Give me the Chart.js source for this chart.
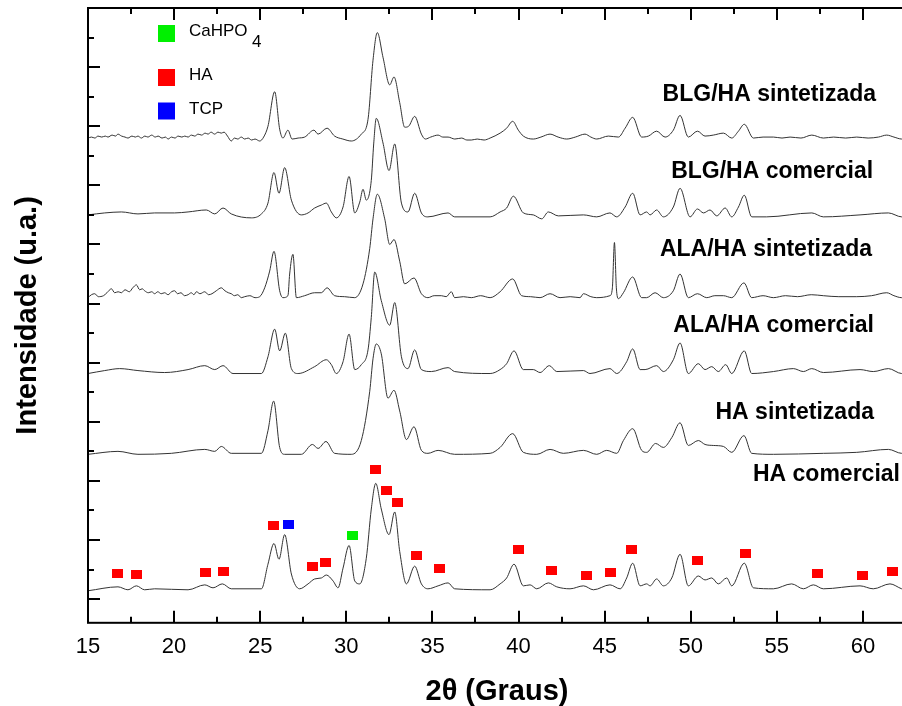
<!DOCTYPE html>
<html>
<head>
<meta charset="utf-8">
<script src="https://cdn.jsdelivr.net/npm/chart.js@4"></script>
<style>
  html, body { margin: 0; padding: 0; background: #fff; overflow: hidden; }
  canvas { display: block; }
</style>
</head>
<body>
<canvas id="xrd" width="917" height="706"></canvas>
<script>
// [2θ, intensidade acima da linha de base da amostra]
const blgHaSint = [[15.0,0],[15.2,1],[15.4,0],[15.58,2],[15.8,1],[16.0,2],[16.16,1],[16.4,3],[16.6,2],[16.74,4],[16.95,2],[17.15,1],[17.32,0],[17.55,2],[17.75,1],[17.9,2],[18.1,0],[18.3,2],[18.48,1],[18.7,3],[18.9,1],[19.07,2],[19.3,0],[19.5,1],[19.65,-1],[19.85,1],[20.05,0],[20.23,2],[20.45,1],[20.62,2],[20.81,1],[21.0,3],[21.2,2],[21.39,4],[21.6,3],[21.8,5],[21.97,4],[22.15,6],[22.35,4],[22.55,6],[22.74,5],[22.9,6],[23.1,2],[23.32,-3],[23.5,0],[23.7,-1],[23.9,1],[24.1,-1],[24.3,0],[24.5,-2],[24.7,-1],[24.97,-3],[25.2,1],[25.45,12],[25.84,47],[26.13,9],[26.32,0],[26.61,8],[26.85,-1],[27.2,0],[27.58,1],[28.12,8],[28.36,4],[28.88,10],[29.32,2],[29.8,-1],[30.29,-3],[30.87,4],[31.26,19],[31.55,79],[31.8,107],[32.13,82],[32.52,54],[32.77,62],[33.1,36],[33.39,11],[33.62,12],[33.97,22],[34.36,4],[34.59,-1],[34.9,1],[35.33,3],[35.6,1],[35.91,1],[36.3,-1],[36.7,0],[37.0,-2],[37.26,-2],[37.6,-1],[38.0,-2],[38.35,0],[38.93,5],[39.31,10],[39.66,17],[39.99,8],[40.28,2],[40.86,-1],[41.3,1],[41.83,4],[42.3,1],[42.8,-1],[43.3,1],[43.86,4],[44.2,1],[44.54,-1],[45.22,2],[45.8,1],[46.19,10],[46.63,21],[47.15,1],[47.54,2],[48.02,7],[48.51,1],[48.99,8],[49.38,23],[49.86,1],[50.39,7],[50.83,2],[51.31,3],[51.9,5],[52.38,0],[52.77,7],[53.11,14],[53.64,0],[54.2,1],[54.8,1],[55.3,0],[55.77,1],[56.4,0],[57.03,3],[57.7,0],[58.3,1],[59.0,0],[59.64,1],[60.3,0],[60.9,1],[61.38,3],[61.8,1],[62.25,-1],[62.5,0]];
const blgHaCom = [[15.0,0],[15.97,2],[16.94,3],[17.9,1],[18.87,2],[20.03,2],[20.81,3],[21.87,5],[22.36,1],[22.84,7],[23.32,1],[24.49,-3],[25.07,1],[25.45,12],[25.8,43],[26.09,22],[26.42,48],[26.81,15],[27.39,0],[27.78,2],[28.16,7],[28.55,10],[28.84,12],[29.13,3],[29.42,-3],[29.81,8],[30.16,39],[30.49,2],[30.78,13],[30.97,26],[31.16,15],[31.45,35],[31.59,72],[31.74,98],[32.13,73],[32.48,45],[32.81,72],[33.2,12],[33.58,3],[33.97,22],[34.36,2],[34.74,-2],[35.91,2],[36.29,-2],[38.35,-2],[38.93,3],[39.31,7],[39.7,19],[40.28,2],[40.86,0],[41.35,-4],[41.73,3],[42.31,-1],[43.77,0],[44.54,-2],[45.31,2],[45.7,-2],[46.19,8],[46.63,22],[47.06,0],[47.44,3],[47.64,0],[48.02,5],[48.41,-2],[48.99,8],[49.38,27],[49.96,-2],[50.39,6],[50.74,2],[51.12,5],[51.51,-1],[52.0,7],[52.38,-2],[52.77,8],[53.11,20],[53.54,-2],[54.41,-2],[57.03,2],[57.7,-2],[59.83,0],[61.48,2],[62.25,-2],[62.5,-1]];
const alaHaSint = [[15.0,-2],[15.2,1],[15.39,2],[15.6,-1],[15.9,0],[16.1,3],[16.36,7],[16.55,3],[16.75,4],[16.94,3],[17.15,6],[17.4,4],[17.6,8],[17.81,11],[18.0,6],[18.15,7],[18.29,5],[18.5,3],[18.7,4],[18.87,2],[19.05,4],[19.25,2],[19.45,3],[19.65,1],[19.85,4],[20.03,5],[20.2,2],[20.4,3],[20.6,0],[20.81,1],[21.0,3],[21.15,1],[21.3,4],[21.5,2],[21.78,4],[22.0,1],[22.2,2],[22.45,5],[22.74,8],[22.95,5],[23.15,3],[23.32,2],[23.5,0],[23.7,1],[23.9,-2],[24.1,-1],[24.4,0],[24.7,-2],[24.97,-1],[25.26,8],[25.55,25],[25.8,45],[26.13,5],[26.32,-2],[26.61,0],[26.71,22],[26.9,42],[27.1,-2],[27.58,0],[28.16,3],[28.55,3],[28.88,8],[29.32,0],[29.9,-1],[30.49,-2],[30.97,12],[31.36,48],[31.55,78],[31.8,103],[32.23,78],[32.52,52],[32.77,57],[33.1,35],[33.39,12],[33.93,18],[34.36,2],[34.74,-2],[35.1,0],[35.52,0],[35.8,-1],[36.1,4],[36.29,-2],[36.8,-1],[37.26,-2],[37.8,0],[38.35,-2],[38.93,4],[39.66,17],[40.18,0],[40.7,-1],[41.25,-2],[41.83,2],[42.41,-2],[43.0,-1],[43.57,-2],[43.77,2],[44.2,-1],[44.54,-2],[45.31,0],[45.45,8],[45.57,54],[45.68,8],[45.8,-3],[46.09,3],[46.63,19],[47.15,-2],[47.44,-2],[47.93,3],[48.41,-2],[48.99,5],[49.38,22],[49.86,-2],[50.39,2],[50.93,-2],[51.4,0],[51.9,0],[52.38,-2],[53.09,13],[53.54,-2],[54.2,0],[54.8,-2],[55.5,0],[56.2,-1],[57.0,1],[57.7,0],[58.6,-1],[59.64,-1],[60.5,0],[61.38,3],[61.8,0],[62.25,-2],[62.5,-1]];
const alaHaCom = [[15.0,-1],[15.97,2],[16.84,4],[17.9,2],[19.45,0],[20.81,3],[21.78,7],[22.36,3],[22.84,7],[23.42,-1],[25.07,-1],[25.45,16],[25.84,44],[26.13,22],[26.46,40],[26.81,4],[27.2,-1],[28.16,6],[28.84,13],[29.13,8],[29.42,-1],[29.81,11],[30.16,39],[30.49,3],[30.87,8],[31.26,23],[31.45,56],[31.65,102],[32.03,73],[32.52,48],[32.81,71],[33.2,16],[33.58,4],[33.97,23],[34.36,3],[34.94,1],[35.91,5],[36.29,1],[38.35,-1],[38.93,3],[39.31,9],[39.74,22],[40.28,3],[40.86,3],[41.25,0],[41.79,7],[42.22,1],[43.77,2],[44.15,-1],[45.31,4],[45.7,-1],[46.28,11],[46.63,24],[47.06,3],[47.35,3],[48.02,7],[48.41,1],[48.99,13],[49.38,30],[49.86,-1],[50.44,9],[50.83,3],[51.22,6],[51.6,1],[52.03,8],[52.38,-1],[53.11,22],[53.54,-1],[54.8,1],[55.96,4],[56.54,1],[57.03,4],[57.7,0],[59.83,3],[60.6,1],[61.48,4],[62.25,-1],[62.5,0]];
const haSint = [[15.0,-1],[16.74,2],[17.9,-1],[19.84,0],[21.78,4],[22.36,2],[22.74,7],[23.32,0],[25.07,0],[25.45,23],[25.78,53],[26.13,6],[26.42,-1],[27.39,-1],[28.03,9],[28.36,5],[28.82,12],[29.32,0],[30.29,-1],[30.87,13],[31.36,63],[31.55,96],[31.74,111],[32.03,101],[32.42,56],[32.77,64],[33.1,43],[33.49,14],[33.93,27],[34.36,3],[34.74,0],[35.33,3],[36.29,-1],[38.35,0],[38.93,6],[39.66,20],[40.28,1],[41.06,-1],[41.83,4],[42.6,0],[43.77,3],[44.54,-1],[45.12,3],[45.7,0],[46.09,13],[46.63,25],[47.15,3],[47.44,1],[47.96,10],[48.41,6],[48.9,16],[49.38,31],[49.86,8],[50.44,13],[50.83,9],[51.31,8],[51.9,7],[52.38,1],[53.09,18],[53.54,0],[54.8,-1],[57.7,0],[59.64,1],[61.48,4],[62.25,0],[62.5,0]];
const haCom = [[15.0,-1],[16.74,3],[17.32,0],[17.81,4],[18.29,0],[18.87,1],[20.81,0],[21.78,5],[22.26,2],[22.8,6],[23.32,1],[25.07,1],[25.45,26],[25.8,47],[26.09,31],[26.42,56],[26.81,16],[27.29,1],[27.78,6],[28.16,11],[28.55,12],[28.84,15],[29.23,9],[29.52,2],[29.81,22],[30.16,45],[30.49,9],[30.78,6],[31.16,32],[31.45,82],[31.71,108],[32.03,82],[32.48,56],[32.81,79],[33.1,39],[33.49,6],[33.97,24],[34.36,6],[34.74,1],[35.33,4],[35.91,7],[36.29,1],[38.35,0],[38.93,6],[39.31,12],[39.74,26],[40.28,4],[40.67,5],[41.06,1],[41.73,7],[42.22,3],[42.99,1],[43.77,4],[44.35,0],[45.31,5],[45.9,1],[46.28,12],[46.63,27],[47.06,4],[47.44,6],[47.64,4],[48.02,11],[48.41,4],[48.9,12],[49.38,36],[49.86,4],[50.44,14],[50.83,10],[51.22,12],[51.6,6],[52.09,12],[52.38,4],[53.11,27],[53.64,2],[54.8,1],[55.86,6],[56.54,1],[57.12,5],[57.7,1],[59.83,4],[60.6,1],[61.57,6],[62.25,1],[62.5,0]];

const samples = [blgHaSint, blgHaCom, alaHaSint, alaHaCom, haSint, haCom];
const sampleNames = ['BLG/HA sintetizada', 'BLG/HA comercial', 'ALA/HA sintetizada', 'ALA/HA comercial', 'HA sintetizada', 'HA comercial'];
const sampleOffsets = [468, 390, 308, 230, 148, 9.5];
const labelX = [60.76, 60.59, 60.53, 60.64, 60.64, 62.15];
const labelY = [511.6, 434.3, 355.1, 277.8, 189.4, 126.4];

// fases identificadas no padrão da HA comercial
const haPeaks = [[16.74,25.8],[17.79,24.8],[21.8,26.8],[22.84,27.8],[25.76,74.9],[28.03,32.9],[28.78,36.7],[31.71,131.4],[32.36,109.8],[32.98,98.2],[34.07,44.8],[35.44,31.6],[39.97,50.5],[41.93,29.5],[43.94,24.1],[45.33,27.5],[46.57,50.5],[50.42,39.3],[53.19,46.8],[57.35,25.8],[59.95,24.1],[61.69,27.8]];
const tcpPeaks = [[26.65,75.9]];
const cahpo4Peaks = [[30.35,64.7]];

const FONT = "'Liberation Sans', Arial, sans-serif";
Chart.defaults.font.family = FONT;
Chart.defaults.color = '#000';

function markImg(color) {
    const c = document.createElement('canvas');
    c.width = 11; c.height = 9;
    const g = c.getContext('2d');
    g.fillStyle = color;
    g.fillRect(0, 0, 11, 9);
    return c;
}

const traceSets = samples.map((s, i) => ({
    label: sampleNames[i],
    data: s.map(p => ({ x: p[0], y: p[1] + sampleOffsets[i] })),
    borderColor: '#333',
    borderWidth: 1,
    pointRadius: 0,
    cubicInterpolationMode: 'monotone',
    fill: false
}));

function markerSet(name, pts, color) {
    return {
        label: name,
        data: pts.map(p => ({ x: p[0], y: p[1] })),
        showLine: false,
        pointStyle: markImg(color),
        pointRadius: 6
    };
}

const framePlugin = {
    id: 'frame',
    afterDatasetsDraw(chart) {
        const { ctx, scales: { x, y } } = chart;
        ctx.save();
        ctx.fillStyle = '#000';
        ctx.font = 'bold 23px ' + FONT;
        ctx.textAlign = 'right';
        ctx.textBaseline = 'middle';
        sampleNames.forEach((n, i) => {
            ctx.fillText(n, x.getPixelForValue(labelX[i]), y.getPixelForValue(labelY[i]));
        });
        ctx.restore();
    },
    afterDraw(chart) {
        const { ctx, chartArea: a, scales: { x, y } } = chart;
        ctx.save();
        ctx.strokeStyle = '#000';
        ctx.lineWidth = 2;
        ctx.strokeRect(a.left, a.top, a.right - a.left, a.bottom - a.top);
        ctx.beginPath();
        x.ticks.forEach(t => {
            const px = Math.round(x.getPixelForValue(t.value));
            const len = t.value % 5 === 0 ? 12 : 6;
            ctx.moveTo(px, a.bottom); ctx.lineTo(px, a.bottom - len);
            ctx.moveTo(px, a.top); ctx.lineTo(px, a.top + len);
        });
        y.ticks.forEach(t => {
            const py = Math.round(y.getPixelForValue(t.value));
            const len = t.value % 60 === 0 ? 12 : 6;
            ctx.moveTo(a.left, py); ctx.lineTo(a.left + len, py);
        });
        ctx.stroke();

        // legenda das fases
        const lx = a.left + 70;
        const items = [['#00f000', 'CaHPO', 33.5], ['#ff0000', 'HA', 77.5], ['#0000ff', 'TCP', 111]];
        ctx.font = '17px ' + FONT;
        ctx.textBaseline = 'middle';
        ctx.textAlign = 'left';
        items.forEach(([c, t, cy]) => {
            ctx.fillStyle = c;
            ctx.fillRect(lx, cy - 8.5, 17, 17);
            ctx.fillStyle = '#000';
            ctx.fillText(t, lx + 31, cy - 2);
        });
        ctx.fillText('4', lx + 94, 42);
        ctx.restore();
    }
};

new Chart(document.getElementById('xrd'), {
    type: 'line',
    data: {
        datasets: [
            ...traceSets,
            markerSet('HA', haPeaks, '#ff0000'),
            markerSet('TCP', tcpPeaks, '#0000ff'),
            markerSet('CaHPO4', cahpo4Peaks, '#00f000')
        ]
    },
    options: {
        responsive: false,
        animation: false,
        layout: { padding: { left: 0, right: 4, top: 8, bottom: 0 } },
        plugins: { legend: { display: false }, tooltip: { enabled: false } },
        scales: {
            x: {
                type: 'linear',
                min: 15,
                max: 62.5,
                grid: { display: false, drawTicks: false },
                border: { display: false },
                ticks: {
                    stepSize: 2.5,
                    autoSkip: false,
                    maxRotation: 0,
                    padding: 11,
                    font: { size: 22 },
                    callback: v => (v % 5 === 0 ? v : '')
                },
                title: {
                    display: true,
                    text: '2θ (Graus)',
                    font: { size: 29, weight: 'bold' },
                    padding: { top: 3, bottom: -3 }
                }
            },
            y: {
                min: -24,
                max: 600,
                grid: { display: false, drawTicks: false },
                border: { display: false },
                ticks: { display: false },
                afterBuildTicks: s => {
                    const t = [];
                    for (let v = 0; v <= 570; v += 30) t.push({ value: v });
                    s.ticks = t;
                },
                title: {
                    display: true,
                    text: 'Intensidade (u.a.)',
                    font: { size: 29, weight: 'bold' },
                    padding: { top: 10.6, bottom: 42.6 }
                }
            }
        }
    },
    plugins: [framePlugin]
});
</script>
</body>
</html>
